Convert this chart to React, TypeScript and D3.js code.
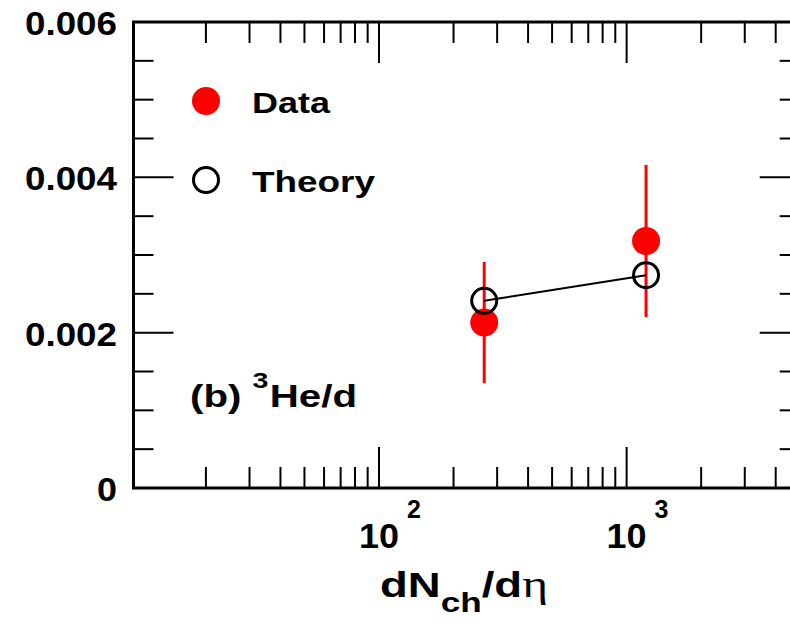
import React from "react";
import * as d3 from "d3";

const xCategories = [266, 1198];
const dataValues = [0.00213, 0.00318];
const dataErrors = [0.00078, 0.00098];
const theoryValues = [0.00241, 0.00274];
const yTickLabels = ["0", "0.002", "0.004", "0.006"];
const yMajorTicks = [0, 0.002, 0.004, 0.006];
const xMajorTicks = [100, 1000];
const xMajorExp = ["2", "3"];
const legendLabels = ["Data", "Theory"];
const panelLabel = ["(b) ", "3", "He/d"];

const W = 790;
const H = 623;
const FONT = "'Liberation Sans', Arial, Helvetica, sans-serif";

export default function App() {
  const x = d3.scaleLog().domain([10.2, 5000]).range([133.5, 799.7]);
  const y = d3.scaleLinear().domain([0, 0.006]).range([488, 22]);
  const [x0, x1] = x.range();
  const [yb, yt] = y.range();

  const xTicks = x.ticks();
  const isMajorX = (v: number) => xMajorTicks.some((m) => Math.abs(m - v) < 1e-6);
  const yTicks = y.ticks(12);
  const isMajorY = (v: number) => yMajorTicks.some((m) => Math.abs(m - v) < 1e-9);

  const line = d3
    .line<number>()
    .x((_, i) => x(xCategories[i]))
    .y((d) => y(d));

  return (
    <svg
      width={W}
      height={H}
      style={{ position: "absolute", left: 0, top: 0, background: "#fff" }}
      fontFamily={FONT}
    >
      <rect x={0} y={0} width={W} height={H} fill="#fff" />
      {/* x ticks */}
      {xTicks.map((t, i) => {
        const len = isMajorX(t) ? 41 : 21;
        const px = x(t);
        return (
          <g key={"xt" + i} stroke="#000" strokeWidth={2}>
            <line x1={px} x2={px} y1={yb} y2={yb - len} />
            <line x1={px} x2={px} y1={yt} y2={yt + len} />
          </g>
        );
      })}
      {/* y ticks */}
      {yTicks.map((t, i) => {
        const len = isMajorY(t) ? 40 : 20;
        const py = y(t);
        return (
          <g key={"yt" + i} stroke="#000" strokeWidth={2}>
            <line x1={x0} x2={x0 + len} y1={py} y2={py} />
            <line x1={x1} x2={x1 - len} y1={py} y2={py} />
          </g>
        );
      })}
      {/* frame */}
      <rect x={x0} y={yt} width={x1 - x0} height={yb - yt} fill="none" stroke="#000" strokeWidth={3} />

      {/* y tick labels */}
      {yMajorTicks.map((t, i) => (
        <text
          key={"yl" + i}
          x={117}
          y={y(t) + 13}
          textAnchor="end"
          fontSize={34}
          fontWeight="bold"
          textLength={yTickLabels[i].length > 1 ? 92 : 20}
          lengthAdjust="spacingAndGlyphs"
        >
          {yTickLabels[i]}
        </text>
      ))}
      {/* x tick labels */}
      {xMajorTicks.map((t, i) => (
        <g key={"xl" + i}>
          <text
            x={x(t)}
            y={548}
            textAnchor="middle"
            fontSize={35}
            fontWeight="bold"
            textLength={40}
            lengthAdjust="spacingAndGlyphs"
          >
            10
          </text>
          <text x={x(t) + 28} y={518} textAnchor="start" fontSize={25} fontWeight="bold">
            {xMajorExp[i]}
          </text>
        </g>
      ))}
      {/* x axis title */}
      <text
        x={380}
        y={597}
        fontSize={35}
        fontWeight="bold"
        textLength={168}
        lengthAdjust="spacingAndGlyphs"
      >
        dN
        <tspan fontSize={27} dy={15}>ch</tspan>
        <tspan dy={-15}>/d</tspan>
        <tspan fontFamily="'Liberation Serif', 'DejaVu Serif', serif" fontWeight="normal" fontSize={38}>η</tspan>
      </text>

      {/* panel label */}
      <text
        x={190}
        y={407}
        fontSize={31}
        fontWeight="bold"
        textLength={167}
        lengthAdjust="spacingAndGlyphs"
      >
        {panelLabel[0]}
        <tspan fontSize={22} dy={-19}>{panelLabel[1]}</tspan>
        <tspan dy={19} dx={1}>{panelLabel[2]}</tspan>
      </text>

      {/* legend */}
      <circle cx={206} cy={101} r={14} fill="#ff0000" />
      <text
        x={252}
        y={113}
        fontSize={30}
        fontWeight="bold"
        textLength={78}
        lengthAdjust="spacingAndGlyphs"
      >
        {legendLabels[0]}
      </text>
      <circle cx={206} cy={180} r={12.5} fill="none" stroke="#000" strokeWidth={3} />
      <text
        x={252}
        y={192}
        fontSize={30}
        fontWeight="bold"
        textLength={123}
        lengthAdjust="spacingAndGlyphs"
      >
        {legendLabels[1]}
      </text>

      {/* data error bars */}
      {xCategories.map((c, i) => (
        <line
          key={"eb" + i}
          x1={x(c)}
          x2={x(c)}
          y1={y(dataValues[i] + dataErrors[i])}
          y2={y(dataValues[i] - dataErrors[i])}
          stroke="#ff0000"
          strokeWidth={3}
        />
      ))}
      {/* data points */}
      {xCategories.map((c, i) => (
        <circle key={"dp" + i} cx={x(c)} cy={y(dataValues[i])} r={14} fill="#ff0000" />
      ))}
      {/* theory line */}
      <path d={line(theoryValues) || ""} fill="none" stroke="#000" strokeWidth={2} />
      {xCategories.map((c, i) => (
        <circle
          key={"tp" + i}
          cx={x(c)}
          cy={y(theoryValues[i])}
          r={12.5}
          fill="none"
          stroke="#000"
          strokeWidth={3}
        />
      ))}
    </svg>
  );
}
